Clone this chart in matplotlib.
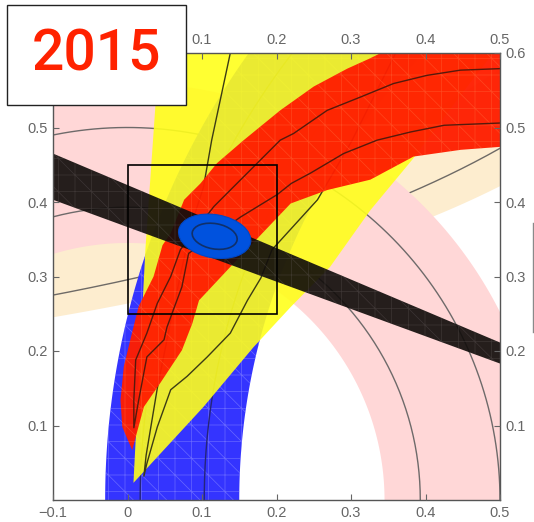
import numpy as np
import matplotlib.pyplot as plt
from matplotlib.colors import to_rgba
from matplotlib.patches import Polygon, Ellipse, Rectangle
from matplotlib.lines import Line2D

plt.rcParams['hatch.linewidth'] = 0.5

year_label = '2015'

x_ticks = [-0.1, 0.0, 0.1, 0.2, 0.3, 0.4, 0.5]
x_tick_labels = ['\u22120.1', '0', '0.1', '0.2', '0.3', '0.4', '0.5']
y_ticks = [0.1, 0.2, 0.3, 0.4, 0.5, 0.6]
y_tick_labels = ['0.1', '0.2', '0.3', '0.4', '0.5', '0.6']

# |Vub/Vcb| ring about (0, 0): band radii and contour radii
vub_band = [0.345, 0.56]
vub_lines = [0.393, 0.50]

# dm_d ring about (1, 0)
dmd_band = [0.85, 1.03]
dmd_lines = [0.897, 0.983]

# eps_K hyperbola, eta = k / (a - rho)
epsk_a = 1.3376
epsk_band = [0.3537, 0.486]
epsk_line = 0.3954

# sin2beta wedge from (1, 0): eta of both edges at rho = -0.1
sin2b_edges = [0.403, 0.465]

# gamma region
gamma_left_rho = [0.008, 0.024, 0.038, 0.046]
gamma_left_eta = [0.023, 0.336, 0.537, 0.65]
gamma_right_rho = [0.008, 0.102, 0.169, 0.219, 0.272, 0.326, 0.384, 0.46, 0.53]
gamma_right_eta = [0.023, 0.125, 0.205, 0.259, 0.313, 0.389, 0.459, 0.56, 0.65]
gamma_line_rho = [0.138, 0.113, 0.102, 0.085, 0.06, 0.04, 0.025, 0.022, 0.026, 0.04,
                  0.058, 0.08, 0.107, 0.138, 0.161, 0.179, 0.194, 0.255, 0.30, 0.36]
gamma_line_eta = [0.60, 0.483, 0.42, 0.367, 0.25, 0.15, 0.06, 0.032, 0.049, 0.098,
                  0.148, 0.166, 0.192, 0.224, 0.268, 0.298, 0.336, 0.403, 0.48, 0.60]

# alpha region
alpha_upper_rho = [0.0063, -0.007, -0.0094, -0.005, 0.006, 0.015, 0.035, 0.047, 0.058,
                   0.076, 0.098, 0.12, 0.156, 0.205, 0.25, 0.295, 0.326, 0.34, 0.37]
alpha_upper_eta = [0.067, 0.098, 0.134, 0.179, 0.224, 0.26, 0.30, 0.342, 0.358,
                   0.403, 0.425, 0.452, 0.483, 0.523, 0.555, 0.579, 0.593, 0.60, 0.62]
alpha_lower_rho = [0.0063, 0.022, 0.044, 0.073, 0.087, 0.096, 0.14, 0.219, 0.268,
                   0.326, 0.384, 0.447, 0.50, 0.53]
alpha_lower_eta = [0.067, 0.125, 0.157, 0.201, 0.237, 0.268, 0.315, 0.398, 0.416,
                   0.43, 0.461, 0.47, 0.474, 0.476]
alpha_line_rho = [0.53, 0.50, 0.447, 0.402, 0.357, 0.313, 0.268, 0.223, 0.205, 0.178,
                  0.116, 0.071, 0.058, 0.04, 0.026, 0.011, 0.0085, 0.0085,
                  0.015, 0.026, 0.049, 0.053, 0.06, 0.073, 0.082, 0.152, 0.201,
                  0.22, 0.246, 0.29, 0.335, 0.38, 0.425, 0.50, 0.53]
alpha_line_eta = [0.579, 0.579, 0.577, 0.57, 0.559, 0.541, 0.523, 0.492, 0.483, 0.456,
                  0.394, 0.336, 0.30, 0.264, 0.224, 0.188, 0.134, 0.097,
                  0.134, 0.192, 0.215, 0.232, 0.251, 0.286, 0.331, 0.38, 0.41,
                  0.425, 0.439, 0.465, 0.483, 0.494, 0.503, 0.506, 0.507]

# global fit ellipses
fit_center = (0.117, 0.354)
fit_inner = (0.061, 0.034)
fit_outer = (0.098, 0.058)
fit_angle = -10

# zoom window
window = (0.0, 0.25, 0.2, 0.2)


def ring(cx, r_in, r_out, t0, t1, n=300):
    t = np.linspace(t0, t1, n)
    xs = np.r_[cx + r_out * np.cos(t), cx + r_in * np.cos(t[::-1])]
    ys = np.r_[r_out * np.sin(t), r_in * np.sin(t[::-1])]
    return np.column_stack([xs, ys])


fig = plt.figure(figsize=(5.34, 5.22), dpi=100)
ax = fig.add_axes([53 / 534, 22 / 522, 447 / 534, 447 / 522])
ax.set_xlim(-0.1, 0.5)
ax.set_ylim(0.0, 0.6)
ax.set_axisbelow(False)

# eps_K
rho = np.linspace(-0.15, 0.55, 200)
ax.fill_between(rho, epsk_band[0] / (epsk_a - rho), epsk_band[1] / (epsk_a - rho),
                color='#fdedcf', lw=0, zorder=1.0)
ax.plot(rho, epsk_line / (epsk_a - rho), color='#6e6a66', lw=1, zorder=1.1)

# |Vub/Vcb|
ax.add_patch(Polygon(ring(0.0, vub_band[0], vub_band[1], 0, np.pi),
                     facecolor='#ffd7d7', lw=0, zorder=1.2))
t = np.linspace(0, np.pi, 300)
for r in vub_lines:
    ax.plot(r * np.cos(t), r * np.sin(t), color='#6e6a6a', lw=1, zorder=1.3)

# dm_d
ax.add_patch(Polygon(ring(1.0, dmd_band[0], dmd_band[1], np.pi / 2, np.pi),
                     facecolor='#3434ff', edgecolor=to_rgba('#8c8cff', 0.6),
                     lw=0, hatch='+\\', zorder=1.4))
t = np.linspace(np.pi / 2, np.pi, 300)
for r in dmd_lines:
    ax.plot(1 + r * np.cos(t), r * np.sin(t), color='#25257a', lw=1, zorder=1.5)

# gamma
gamma_pts = list(zip(gamma_right_rho, gamma_right_eta)) + \
    list(zip(gamma_left_rho, gamma_left_eta))[::-1]
ax.add_patch(Polygon(gamma_pts, facecolor=to_rgba('#ffff1c', 0.9), lw=0, zorder=1.6))
ax.plot(gamma_line_rho, gamma_line_eta, color='#3c3c14', lw=1, zorder=1.7)

# alpha
alpha_pts = list(zip(alpha_lower_rho, alpha_lower_eta)) + [(0.53, 0.65), (0.37, 0.65)] + \
    list(zip(alpha_upper_rho, alpha_upper_eta))[::-1]
ax.add_patch(Polygon(alpha_pts, facecolor=to_rgba('#ff1e00', 0.96),
                     edgecolor=to_rgba('#ff7040', 0.45), lw=0, hatch='+\\', zorder=1.8))
ax.plot(alpha_line_rho, alpha_line_eta, color='#561a0c', lw=1, zorder=1.9)

# sin2beta
far = -0.2
wedge = [(1.0, 0.0),
         (far, sin2b_edges[0] * (1 - far) / 1.1),
         (far, sin2b_edges[1] * (1 - far) / 1.1)]
ax.add_patch(Polygon(wedge, facecolor=to_rgba('#120e0c', 0.92),
                     edgecolor=to_rgba('#6a6262', 0.35), lw=0, hatch='+\\', zorder=2.0))

# fit result
ax.add_patch(Ellipse(fit_center, fit_outer[0], fit_outer[1], angle=fit_angle,
                     facecolor='#0052de', edgecolor='#0048c8', lw=0.8, zorder=2.1))
ax.add_patch(Ellipse(fit_center, fit_inner[0], fit_inner[1], angle=fit_angle,
                     facecolor='none', edgecolor='#10306a', lw=1.2, zorder=2.2))

ax.add_patch(Rectangle(window[:2], window[2], window[3], facecolor='none',
                       edgecolor='black', lw=1.2, zorder=2.3))

ax.set_xticks(x_ticks)
ax.set_xticklabels(x_tick_labels)
ax.set_yticks(y_ticks)
ax.set_yticklabels(y_tick_labels)
ax.tick_params(direction='in', length=4, width=0.8, color='#666666',
               labelcolor='#666666', labelsize=10.5, pad=4,
               top=True, right=True, labeltop=True, labelright=True)
for lab in ax.get_xticklabels() + ax.get_yticklabels():
    lab.set_fontfamily('Liberation Sans')
# labels sitting under the year box are not drawn
for tick in ax.xaxis.get_major_ticks()[:2]:
    tick.label2.set_visible(False)
ax.yaxis.get_major_ticks()[-1].label1.set_visible(False)
for sp in ax.spines.values():
    sp.set_color('#555555')
    sp.set_linewidth(1)

fig.add_artist(Line2D([533 / 534, 533 / 534], [1 - 223 / 522, 1 - 332 / 522],
                      color='#8a8a8a', lw=1))

fig.add_artist(Rectangle((7 / 534, 1 - 105 / 522), 179 / 534, 100 / 522,
                         transform=fig.transFigure, facecolor='white',
                         edgecolor='#222222', lw=1, zorder=10))
fig.text(97 / 534, 1 - 55 / 522, year_label, color='#ff2200', fontsize=41,
         fontfamily='Roboto', fontweight='medium', ha='center', va='center', zorder=11)

fig.savefig('out.png', dpi=100)
